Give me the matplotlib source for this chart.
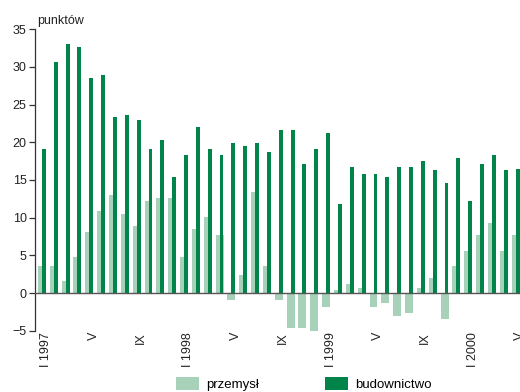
import numpy as np
import matplotlib
matplotlib.use("Agg")
import matplotlib.pyplot as plt
from matplotlib.patches import Patch

plt.rcParams["font.family"] = ["Liberation Sans", "DejaVu Sans"]

# miesiące I 1997 - V 2000
tick_labels = ["I 1997", "V", "IX", "I 1998", "V", "IX", "I 1999", "V", "IX", "I 2000", "V"]

przemysl = [3.6, 3.6, 1.6, 4.8, 8.1, 10.9, 13.0, 10.5, 8.9, 12.2, 12.6, 12.6,
            4.8, 8.5, 10.1, 7.7, -0.9, 2.4, 13.4, 3.6, -0.9, -4.6, -4.6, -5.0,
            -1.8, 0.4, 1.2, 0.7, -1.8, -1.3, -3.0, -2.6, 0.7, 2.0, -3.4, 3.6,
            5.6, 7.7, 9.3, 5.6, 7.7]
budownictwo = [19.1, 30.7, 33.1, 32.7, 28.55, 28.95, 23.3, 23.6, 22.9, 19.1, 20.3, 15.4,
               18.3, 22.05, 19.1, 18.3, 19.9, 19.5, 19.9, 18.7, 21.65, 21.65, 17.1, 19.1,
               21.25, 11.8, 16.75, 15.8, 15.8, 15.4, 16.75, 16.75, 17.5, 16.35, 14.6, 17.9,
               12.2, 17.1, 18.3, 16.35, 16.5]

LIGHT = "#a8d1ba"
DARK = "#00844a"

x = np.arange(len(przemysl))

fig = plt.figure(figsize=(5.2, 3.92), dpi=100)
ax = fig.add_axes([35 / 520, 0.1564, 1 - 35 / 520, 0.7689])

ax.bar(x, przemysl, width=0.67, color=LIGHT, zorder=2)
ax.bar(x + 0.167, budownictwo, width=0.33, color=DARK, zorder=3)
ax.axhline(0, color="#555555", lw=1.0, zorder=4)

ax.set_xlim(-0.583, 39.83)
ax.set_ylim(-5, 35)
ax.set_yticks(range(-5, 36, 5))
ax.set_xticks(x[::4] + 0.37)
ax.set_xticklabels(tick_labels, rotation=90, va="top", ha="center")

for s in ["top", "right", "bottom"]:
    ax.spines[s].set_visible(False)
ax.spines["left"].set_color("#333333")
ax.spines["left"].set_linewidth(0.9)
ax.tick_params(axis="y", length=4, width=0.9, color="#333333", labelsize=9, pad=2, labelcolor="#222222")
ax.tick_params(axis="x", length=0, labelsize=9, pad=1, labelcolor="#222222")

fig.text(37.5 / 520, 1 - 24 / 392, "punktów", fontsize=9, color="#222222", va="baseline")

handles = [Patch(facecolor=LIGHT, edgecolor="none", label="przemysł"),
           Patch(facecolor=DARK, edgecolor="none", label="budownictwo")]
fig.legend(handles=handles, loc="center left", bbox_to_anchor=(176 / 520, 1 - 384 / 392),
           ncol=2, frameon=False, fontsize=9.5, handlelength=1.75, handleheight=1.1,
           handletextpad=0.55, columnspacing=5.0, borderpad=0, borderaxespad=0)

fig.savefig("out.png", dpi=100)
